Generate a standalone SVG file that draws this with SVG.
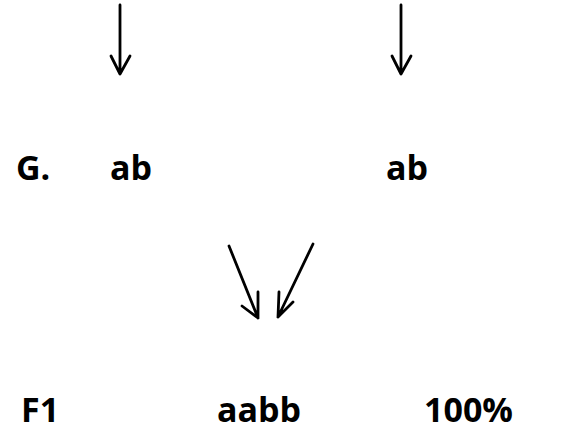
<svg xmlns="http://www.w3.org/2000/svg" width="566" height="438" viewBox="0 0 566 438">
  <style>
    .lbl { font-family: "Open Sans", "Noto Sans", "Liberation Sans", sans-serif; font-weight: 700; font-size: 34px; fill: #000; }
    .ln { stroke: #000; stroke-width: 2.8; fill: none; stroke-linecap: round; stroke-linejoin: round; }
  </style>
  <rect width="566" height="438" fill="#fff"/>
  <g id="connectors">
    <!-- parent arrows -->
    <path class="ln" d="M120 5 V74 M111 56 L120 74 L130 56"/>
    <path class="ln" d="M401 5 V74 M392 56 L401 74 L411 56"/>
    <!-- converging arrows -->
    <path class="ln" d="M229 246 L258 318 M258 292 V318 L242 306"/>
    <path class="ln" d="M313 244 L278 317 M279 292 L278 317 L293 302"/>
  </g>
  <g id="row-g">
    <text class="lbl" x="16" y="180">G.</text>
    <text class="lbl" x="110" y="180">ab</text>
    <text class="lbl" x="386" y="180">ab</text>
  </g>
  <g id="row-f1">
    <text class="lbl" x="21" y="422">F1</text>
    <text class="lbl" x="217" y="422">aabb</text>
    <text class="lbl" x="424" y="422">100%</text>
  </g>
</svg>
